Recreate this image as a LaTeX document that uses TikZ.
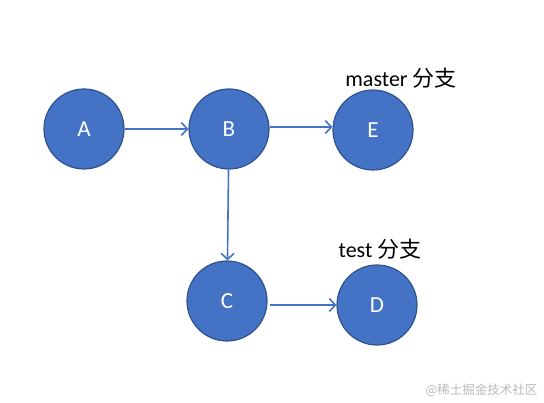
\documentclass[tikz,border=0pt]{standalone}
\usepackage{fontspec}
\setmainfont{Carlito}
\newfontfamily\cjk{Noto Sans CJK SC}
\usetikzlibrary{arrows.meta}
\definecolor{fillblue}{HTML}{4472C4}
\definecolor{edgeblue}{HTML}{2F528F}
\begin{document}
\begin{tikzpicture}[x=1pt,y=-1pt,
  commit/.style={circle,fill=fillblue,draw=edgeblue,line width=1.2pt,minimum size=80pt,inner sep=0pt,text=white,font=\fontsize{23}{23}\selectfont},
  link/.style={draw=fillblue,line width=1.6pt,-{Straight Barb[length=6pt,width=13pt,line width=1.6pt]}},
  branch/.style={font=\fontsize{22}{22}\selectfont,inner sep=0pt}]
\useasboundingbox (0,0) rectangle (544,403);
\node[commit] (A) at (84,129) {A};
\node[commit] (B) at (229,129) {B};
\node[commit] (E) at (373,130) {E};
\node[commit] (C) at (227,301) {C};
\node[commit] (D) at (377,305) {D};
\coordinate (bes) at ([yshift=2pt]B.east);
\coordinate (ces) at ([xshift=2pt]C.east |- D.west);
\draw[link] (A) -- (B);
\draw[link] (bes) -- (E.west |- bes);
\draw[link] (B) -- (C);
\draw[link] (ces) -- (D.west);
\node[branch] (lm) at (401,78) {master {\cjk 分支}};
\node[branch] (lt) at (380,249) {test {\cjk 分支}};
\node[font=\cjk\fontsize{12.5}{12.5}\selectfont,text=gray!55,anchor=east] (wm) at (541,390) {@稀土掘金技术社区};
\end{tikzpicture}
\end{document}
